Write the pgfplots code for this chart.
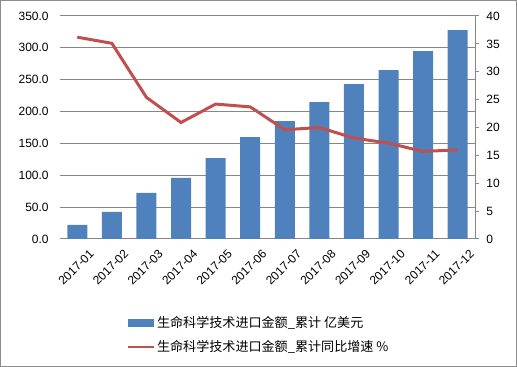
\documentclass[border=0pt]{standalone}
\usepackage{pgfplots}
\pgfplotsset{compat=1.18}
\usepackage{fontspec}
\setmainfont{Liberation Sans}
\newfontfamily\cjk{Noto Sans CJK SC}
\definecolor{barblue}{HTML}{4F81BD}
\definecolor{linered}{HTML}{C0504D}
\definecolor{gridgray}{HTML}{868686}
\definecolor{framegray}{HTML}{8C8C8C}
\begin{document}
\begin{tikzpicture}
\useasboundingbox (0pt,0pt) rectangle (387.75pt,275.25pt);
\draw[framegray, line width=0.75pt] (0.375pt,0.375pt) rectangle (387.375pt,274.875pt);
\begin{axis}[
  at={(45pt,96pt)}, anchor=south west,
  scale only axis, width=311.25pt, height=167.25pt,
  xmin=-0.5, xmax=11.5, ymin=0, ymax=350,
  axis x line*=bottom, axis y line*=left,
  y axis line style={draw=none},
  x axis line style={gridgray, line width=0.75pt},
  xtick={0,...,11},
  xticklabels={2017-01,2017-02,2017-03,2017-04,2017-05,2017-06,2017-07,2017-08,2017-09,2017-10,2017-11,2017-12},
  xticklabel style={rotate=45, anchor=north east, inner sep=1pt, yshift=-10pt, xshift=2pt, font=\fontsize{9}{10}\selectfont},
  ytick={0,50,...,350},
  yticklabel style={font=\fontsize{9}{10}\selectfont, xshift=-5pt},
  /pgf/number format/assume math mode=true,
  yticklabel={\pgfmathprintnumber[fixed,fixed zerofill,precision=1]{\tick}},
  major tick length=0pt,
  ymajorgrids, grid style={gridgray, line width=0.75pt},
]
\addplot[ybar, bar width=15pt, fill=barblue, draw=none] coordinates {
(0,22.0) (1,42.4) (2,72.2) (3,95.8) (4,127.0) (5,160.0) (6,185.0) (7,215.0) (8,243.0) (9,265.0) (10,295.0) (11,328.0)};
\end{axis}
\begin{axis}[
  at={(45pt,96pt)}, anchor=south west,
  scale only axis, width=311.25pt, height=167.25pt,
  xmin=-0.5, xmax=11.5, ymin=0, ymax=40,
  axis x line=none, axis y line*=right,
  y axis line style={gridgray, line width=0.75pt},
  ytick={0,5,...,40},
  yticklabel style={font=\fontsize{9}{10}\selectfont, xshift=2pt},
  /pgf/number format/assume math mode=true,
  tick align=outside, major tick length=3pt,
  tick style={gridgray, line width=0.75pt},
  legend style={draw=none, fill=none, at={(0.162,-0.335)}, anchor=north west,
    font=\cjk\fontsize{9.8}{11}\selectfont, row sep=4pt, inner sep=0pt,
    cells={anchor=west}},
]
\addlegendimage{legend image code/.code={\fill[barblue] (0pt,-2.6pt) rectangle (19pt,2.6pt);}}
\addlegendentry{生命科学技术进口金额\_累计 亿美元}
\addplot[linered, line width=2.25pt, mark=none,
  legend image code/.code={\draw[linered, line width=1.2pt] (0pt,0pt) -- (19pt,0pt);}] coordinates {
(0,36.2) (1,35.1) (2,25.4) (3,20.9) (4,24.2) (5,23.7) (6,19.6) (7,20.0) (8,18.1) (9,17.2) (10,15.7) (11,16.0)};
\addlegendentry{生命科学技术进口金额\_累计同比增速 \%}
\end{axis}
\end{tikzpicture}
\end{document}
